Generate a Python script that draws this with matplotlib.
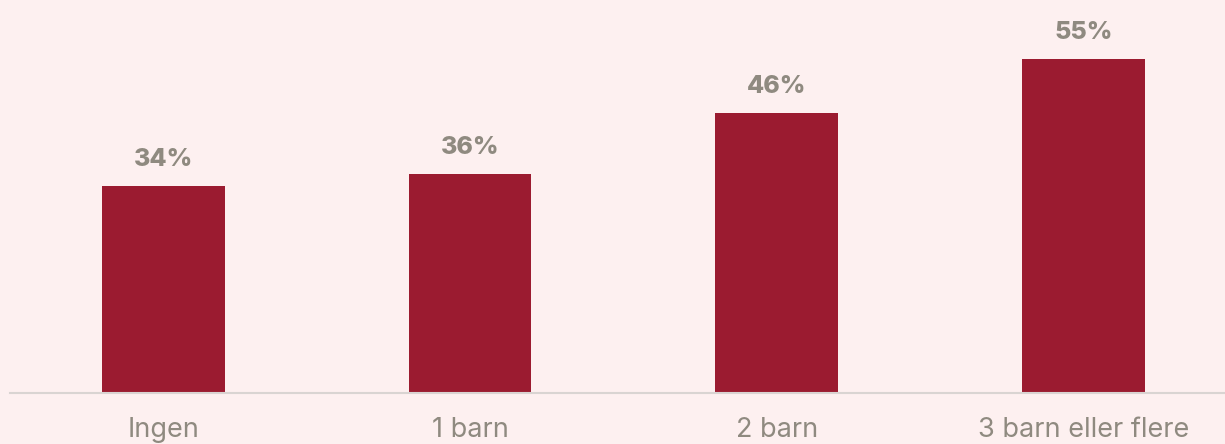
import matplotlib
matplotlib.use("Agg")
import matplotlib.pyplot as plt

categories = ["Ingen", "1 barn", "2 barn", "3 barn eller flere"]
values = [34, 36, 46, 55]
value_labels = ["34%", "36%", "46%", "55%"]

BG = "#FDF0F0"
BAR = "#9B1B30"
TXT = "#8F8A80"

W, H = 1225, 444
fig = plt.figure(figsize=(W / 100, H / 100), dpi=100, facecolor=BG)
ax = fig.add_axes([10 / W, (H - 393) / H, 1 - 10 / W, 393 / H])
ax.set_facecolor(BG)

x = list(range(len(categories)))
ax.bar(x, values, width=0.40, color=BAR, zorder=2)
ax.set_xlim(-0.5, -0.5 + 1215 / 306.7)
ax.set_ylim(0, 393 / 6.08)

for xi, v, lab in zip(x, values, value_labels):
    ax.annotate(lab, (xi, v), xytext=(0, 15), textcoords="offset pixels",
                ha="center", va="bottom", fontsize=18, fontweight="heavy",
                color=TXT, family="Inter")

ax.set_xticks(x)
ax.set_xticklabels(categories, fontsize=19.5, color=TXT, family="Inter")
ax.tick_params(axis="x", length=0, pad=17)
ax.set_yticks([])
for s in ["top", "right", "left"]:
    ax.spines[s].set_visible(False)
ax.spines["bottom"].set_color("#D9D4D2")
ax.spines["bottom"].set_linewidth(1.5)

fig.savefig("out.png", dpi=100, facecolor=BG)
